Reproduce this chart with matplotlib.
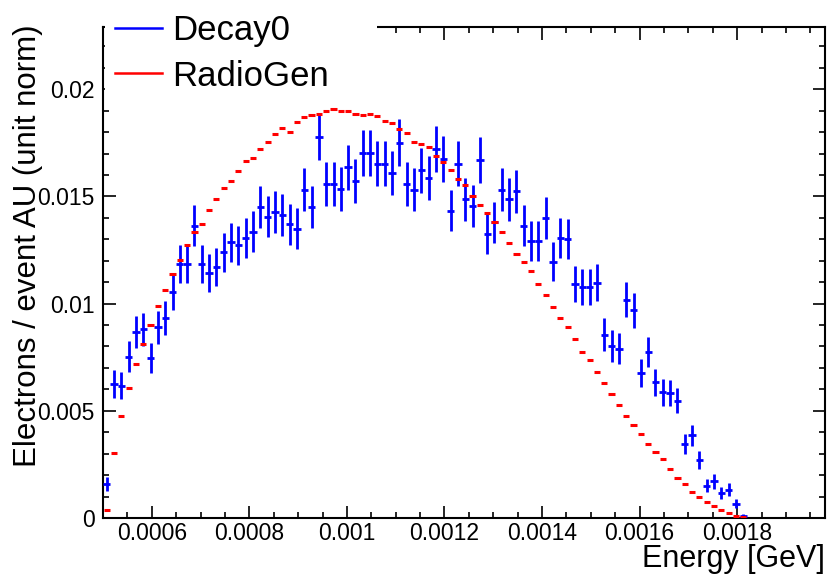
import numpy as np
import matplotlib
matplotlib.use('Agg')
import matplotlib.pyplot as plt
from matplotlib.lines import Line2D
from matplotlib.patches import Rectangle
from matplotlib.ticker import MultipleLocator, FuncFormatter

plt.rcParams['font.family'] = ['Liberation Sans', 'DejaVu Sans']

# ── Histogram binning (GeV) ─────────────────────────────────────────────────
bin_lo = 0.0005
bin_width = 0.000015
n_decay0 = 15000          # entries behind the Decay0 histogram (Poisson errors)

# ── Bin contents, unit-normalised ───────────────────────────────────────────
radiogen = [
    0.00035, 0.00304, 0.00477, 0.00607, 0.00716, 0.00811, 0.00900, 0.00990,
    0.01063, 0.01139, 0.01203, 0.01271, 0.01333, 0.01372, 0.01436, 0.01487,
    0.01538, 0.01571, 0.01620, 0.01666, 0.01681, 0.01720, 0.01753, 0.01790,
    0.01820, 0.01801, 0.01849, 0.01870, 0.01880, 0.01885, 0.01900, 0.01908,
    0.01896, 0.01899, 0.01883, 0.01880, 0.01886, 0.01874, 0.01852, 0.01840,
    0.01814, 0.01795, 0.01754, 0.01745, 0.01732, 0.01690, 0.01661, 0.01625,
    0.01580, 0.01555, 0.01504, 0.01461, 0.01422, 0.01380, 0.01333, 0.01283,
    0.01231, 0.01193, 0.01150, 0.01092, 0.01038, 0.00985, 0.00934, 0.00892,
    0.00834, 0.00772, 0.00737, 0.00683, 0.00629, 0.00580, 0.00528, 0.00478,
    0.00435, 0.00393, 0.00345, 0.00308, 0.00275, 0.00228, 0.00186, 0.00159,
    0.00121, 0.00096, 0.00075, 0.00054, 0.00035, 0.00021, 0.00010, 0.00004,
]

decay0 = [
    0.00160, 0.00625, 0.00617, 0.00753, 0.00867, 0.00881, 0.00746, 0.00890,
    0.00932, 0.01055, 0.01184, 0.01184, 0.01363, 0.01186, 0.01142, 0.01170,
    0.01240, 0.01285, 0.01271, 0.01308, 0.01336, 0.01450, 0.01406, 0.01428,
    0.01414, 0.01371, 0.01350, 0.01531, 0.01450, 0.01779, 0.01558, 0.01558,
    0.01535, 0.01636, 0.01572, 0.01701, 0.01701, 0.01652, 0.01652, 0.01608,
    0.01751, 0.01557, 0.01531, 0.01622, 0.01585, 0.01722, 0.01675, 0.01434,
    0.01652, 0.01487, 0.01456, 0.01670, 0.01325, 0.01380, 0.01531, 0.01487,
    0.01523, 0.01363, 0.01293, 0.01293, 0.01399, 0.01196, 0.01305, 0.01301,
    0.01091, 0.01078, 0.01078, 0.01098, 0.00855, 0.00803, 0.00789, 0.01018,
    0.00968, 0.00676, 0.00774, 0.00632, 0.00587, 0.00583, 0.00548, 0.00346,
    0.00385, 0.00269, 0.00151, 0.00171, 0.00117, 0.00132, 0.00067, 0.00010,
]

x_ticks = [0.0006, 0.0008, 0.001, 0.0012, 0.0014, 0.0016, 0.0018]
y_ticks = [0, 0.005, 0.01, 0.015, 0.02]

centers = bin_lo + bin_width * (np.arange(len(decay0)) + 0.5)
radiogen = np.array(radiogen)
decay0 = np.array(decay0)
decay0_err = np.sqrt(decay0 / n_decay0)

# ── Figure ───────────────────────────────────────────────────────────────────
W, H = 827, 574
fig = plt.figure(figsize=(W / 100, H / 100), dpi=100)
ax = fig.add_axes([103 / W, 1 - 518 / H, 722 / W, 491 / H])

ax.errorbar(centers, decay0, xerr=bin_width / 2, yerr=decay0_err, fmt='none',
            ecolor='#0000ff', elinewidth=2.0, capsize=0, zorder=3)
ax.errorbar(centers, radiogen, xerr=bin_width * 0.42, fmt='none',
            ecolor='#ff0000', elinewidth=2.2, capsize=0, zorder=4)

ax.set_xlim(0.0005, 0.00198)
ax.set_ylim(0, 0.0229)
ax.set_xticks(x_ticks)
ax.set_yticks(y_ticks)
ax.xaxis.set_minor_locator(MultipleLocator(0.00005))
ax.yaxis.set_minor_locator(MultipleLocator(0.001))
fmt = FuncFormatter(lambda v, p: f'{v:g}')
ax.xaxis.set_major_formatter(fmt)
ax.yaxis.set_major_formatter(fmt)

ax.tick_params(which='both', direction='in', top=True, right=True,
               width=1.2, labelsize=16.5, color='black')
ax.tick_params(which='major', length=9)
ax.tick_params(which='minor', length=4.5)
ax.tick_params(axis='x', which='major', pad=3)
ax.tick_params(axis='y', which='major', pad=6)
for s in ax.spines.values():
    s.set_linewidth(1.5)

# ── Axis titles (ROOT style: right / top aligned) ───────────────────────────
fig.text(825 / W, 1 - 559 / H, 'Energy [GeV]', ha='right', va='center',
         fontsize=22)
fig.text(28 / W, 1 - 24 / H, 'Electrons / event AU (unit norm)',
         rotation=90, ha='center', va='top', fontsize=22.5)

# ── Legend on a white box that hides the top frame ──────────────────────────
ax.add_patch(Rectangle((105 / W, 1 - 96 / H), 272 / W, 96 / H,
                       transform=fig.transFigure, facecolor='white',
                       edgecolor='none', clip_on=False, zorder=5))
handles = [
    Line2D([0], [0], color='#0000ff', lw=1.8, label='Decay0'),
    Line2D([0], [0], color='#ff0000', lw=1.8, label='RadioGen'),
]
leg = ax.legend(handles=handles, loc='upper left',
                bbox_to_anchor=(115 / W, 1 - 14 / H),
                bbox_transform=fig.transFigure, frameon=False,
                fontsize=25, handlelength=1.35, handletextpad=0.3,
                labelspacing=0.36, borderpad=0.0, borderaxespad=0)
leg.set_zorder(6)

fig.savefig('out.png', dpi=100)
